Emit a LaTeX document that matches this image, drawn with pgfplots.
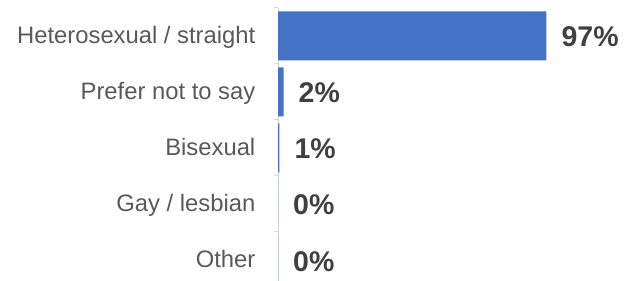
\documentclass[border=0pt]{standalone}
\usepackage{pgfplots}
\pgfplotsset{compat=1.18}
\usepackage{fontspec}
\setmainfont{Liberation Sans}
\definecolor{barblue}{HTML}{4472C4}
\definecolor{axgray}{HTML}{D9D9D9}
\definecolor{lblgray}{HTML}{595959}
\definecolor{valgray}{HTML}{404040}
\begin{document}
\begin{tikzpicture}
\path[use as bounding box] (0,0) rectangle (625bp,281bp);
\begin{axis}[
 at={(278bp,0bp)}, anchor=south west,
 scale only axis, width=347bp, height=273bp,
 xmin=0, xmax=125.4, ymin=-0.375, ymax=4.5,
 axis x line=none,
 axis y line*=left,
 y axis line style={axgray, line width=1bp},
 ytick={0,1,2,3,4},
 yticklabels={Other, Gay / lesbian, Bisexual, Prefer not to say, Heterosexual / straight},
 major tick length=0pt,
 yticklabel style={font=\fontsize{23.8bp}{28bp}\selectfont, text=lblgray, anchor=base east, inner sep=0pt, xshift=-22.5bp, yshift=-7.5bp},
 extra y ticks={0.5,1.5,2.5,3.5,4.5},
 extra y tick labels={},
 extra y tick style={major tick length=4bp, tick align=outside, tick style={axgray, line width=1bp}},
 xbar, bar width=49bp,
 clip=false,
]
\addplot[fill=barblue, draw=none, point meta=explicit symbolic,
  nodes near coords={\pgfplotspointmeta\%},
  nodes near coords style={font=\bfseries\fontsize{28.5bp}{33bp}\selectfont, text=valgray, anchor=base west, inner sep=0pt, xshift=15bp, yshift=-11bp}]
 table[x=x, y=y, meta=m] {
x y m
97 4 97
2 3 2
0.5 2 1
0 1 0
0 0 0
};
\end{axis}
\end{tikzpicture}
\end{document}
